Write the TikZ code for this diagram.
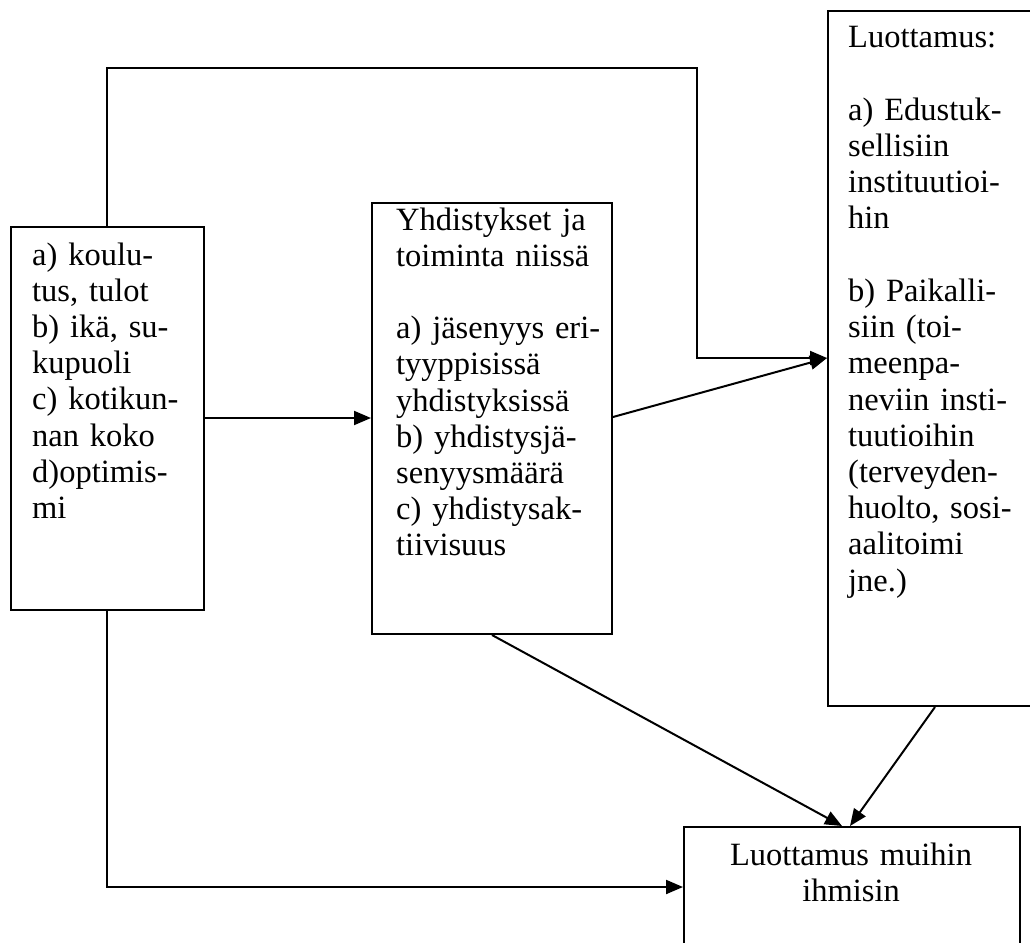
\documentclass[tikz,border=0pt]{standalone}
\usepackage{fontspec}
\setmainfont{Liberation Serif}
\usetikzlibrary{arrows.meta}
\tikzset{
  box/.style={draw, line width=2pt, inner sep=0pt, anchor=north west},
  txt/.style={inner sep=0pt, text width=300pt, align=left, anchor=base west,
    font=\fontsize{32.5}{36.2}\selectfont},
  ctxt/.style={inner sep=0pt, text width=336pt, align=center, anchor=base,
    font=\fontsize{32.5}{36.2}\selectfont},
  conn/.style={line width=2pt},
  arr/.style={conn, -{Triangle[length=17pt,width=14pt]}}
}
\begin{document}
\begin{tikzpicture}[x=1pt,y=-1pt]
\useasboundingbox (0,0) rectangle (1030,942);
% boxes
\node[box, minimum width=193pt, minimum height=383pt] (b1) at (10,226) {};
\node[box, minimum width=240pt, minimum height=431pt] (b2) at (371,202) {};
\node[box, minimum width=230pt, minimum height=695pt] (b3) at (827,10) {};
\node[box, minimum width=336pt, minimum height=140pt] (b4) at (683,826) {};
% texts
\node[txt] (t1) at (32,265) {a) koulu-\\tus, tulot\\b) ikä, su-\\kupuoli\\c) kotikun-\\nan koko\\d)optimis-\\mi};
\node[txt] (t2) at (396,230) {Yhdistykset ja\\toiminta niissä\\[36.2pt]a) jäsenyys eri-\\tyyppisissä\\yhdistyksissä\\b) yhdistysjä-\\senyysmäärä\\c) yhdistysak-\\tiivisuus};
\node[txt] (t3) at (848,48) {Luottamus:\\[36.2pt]a) Edustuk-\\sellisiin\\instituutioi-\\hin\\[36.2pt]b) Paikalli-\\siin (toi-\\meenpa-\\neviin insti-\\tuutioihin\\(terveyden-\\huolto, sosi-\\aalitoimi\\jne.)};
\node[ctxt] (t4) at (851,865) {Luottamus muihin\\ihmisin};
% helper coordinates
\coordinate (c1) at (107,68);
\coordinate (c2) at (697,358);
\coordinate (y418) at (0,418);
\coordinate (s3) at (0,417);
\coordinate (e3) at (0,358);
\coordinate (s4) at (492,0);
\coordinate (e4) at (842,0);
\coordinate (s5) at (935,0);
\coordinate (e5) at (850,0);
\coordinate (y887) at (0,887);
% connectors
\draw[arr] (b1.north -| c1) -- (c1) -| (c2) -- (b3.west |- c2);
\draw[arr] (b1.east |- y418) -- (b2.west |- y418);
\draw[arr] (b2.east |- s3) -- (b3.west |- e3);
\draw[arr] (b2.south -| s4) -- (b4.north -| e4);
\draw[arr] (b3.south -| s5) -- (b4.north -| e5);
\draw[arr] (b1.south -| c1) |- (b4.west |- y887);
\end{tikzpicture}
\end{document}
